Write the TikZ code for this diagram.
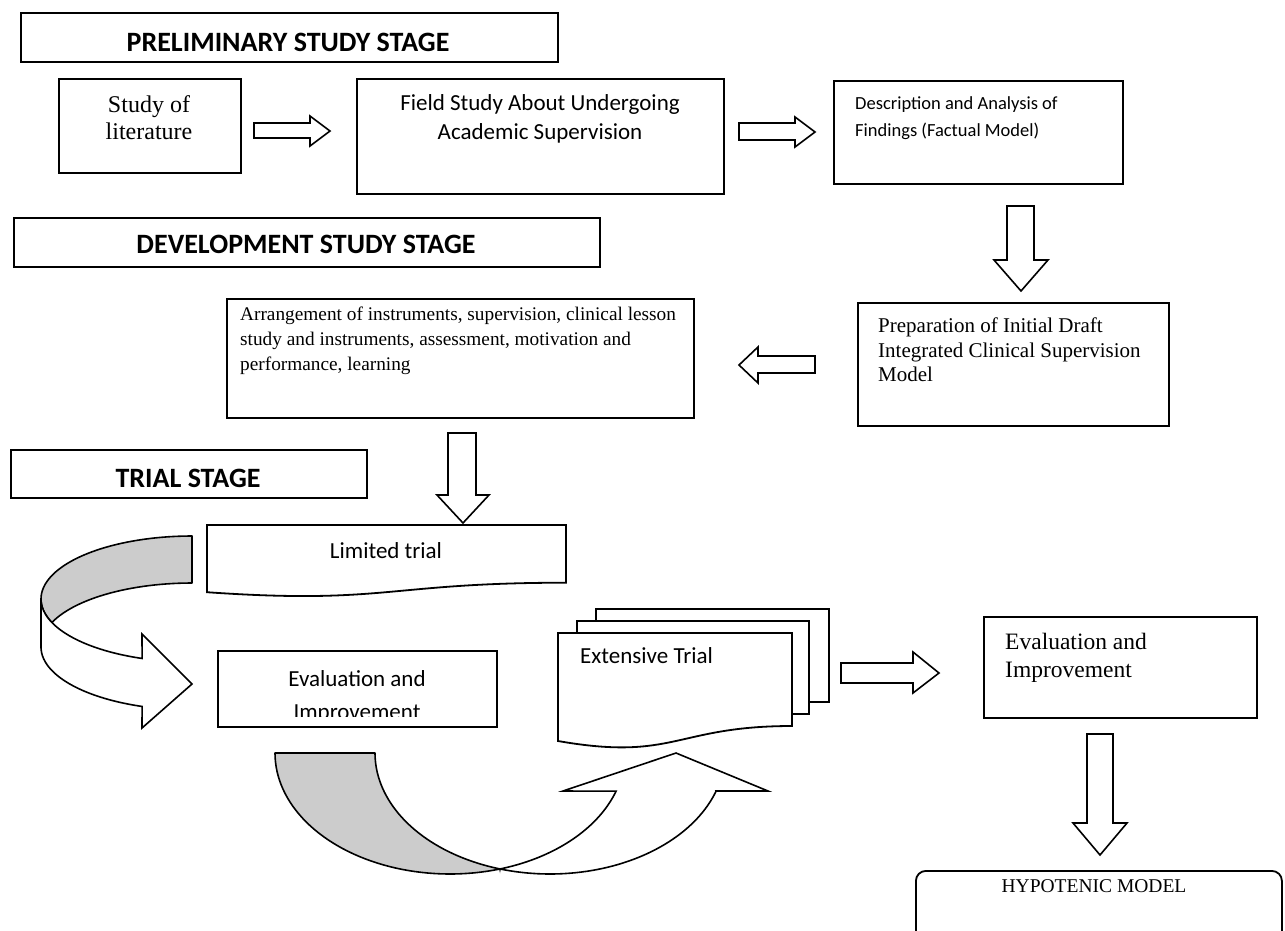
\documentclass[tikz,border=0pt]{standalone}
\usepackage{fontspec}
\setmainfont{Liberation Serif}
\newfontfamily\carl{Carlito}
\newfontfamily\tnr{Liberation Serif}
\definecolor{bandgray}{RGB}{204,204,204}
\begin{document}
\begin{tikzpicture}[x=1pt,y=-1pt,
  box/.style={draw, line width=1.8pt, fill=white, inner sep=0pt, anchor=north west, line join=miter},
  blk/.style={draw, line width=1.6pt, fill=white, line join=miter},
  band/.style={draw, line width=1.6pt, fill=bandgray, line join=round},
  front/.style={draw, line width=1.6pt, fill=white, line join=miter},
  doc/.style={draw, line width=1.8pt, fill=white, line join=miter},
  headtxt/.style={font=\carl\bfseries\fontsize{28}{28}\selectfont, inner sep=0pt, anchor=base},
  caltxt/.style={font=\carl\fontsize{23}{23}\selectfont, inner sep=0pt},
  smalltxt/.style={font=\carl\fontsize{18.5}{18.5}\selectfont, inner sep=0pt, anchor=base west},
  tnrtxt/.style={font=\tnr\fontsize{#1}{#1}\selectfont, inner sep=0pt}
]
\clip (0,0) rectangle (1285,930);
\fill[white] (0,0) rectangle (1285,930);

% ---------- stage headings ----------
\node[box, minimum width=537pt, minimum height=49pt] (prelim) at (20,12) {};
\node[headtxt] (prelimT) at (288,51) {PRELIMINARY STUDY STAGE};
\node[box, minimum width=586pt, minimum height=49pt] (devel) at (13,217) {};
\node[headtxt] (develT) at (306,253) {DEVELOPMENT STUDY STAGE};
\node[box, minimum width=356pt, minimum height=48pt] (trial) at (10,449) {};
\node[headtxt] (trialT) at (188,487) {TRIAL STAGE};

% ---------- preliminary stage ----------
\node[box, minimum width=182pt, minimum height=94pt] (lit) at (58,78) {};
\node[tnrtxt=24, anchor=base] (litA) at (149,112) {Study of};
\node[tnrtxt=24, anchor=base] (litB) at (149,139) {literature};

\node[box, minimum width=367pt, minimum height=115pt] (field) at (356,78) {};
\node[caltxt, anchor=base] (fieldA) at (540,110) {Field Study About Undergoing};
\node[caltxt, anchor=base] (fieldB) at (540,139) {Academic Supervision};

\node[box, minimum width=289pt, minimum height=103pt] (desc) at (833,80) {};
\node[smalltxt] (descA) at (855,109) {Description and Analysis of};
\node[smalltxt] (descB) at (855,136) {Findings (Factual Model)};

\draw[blk] (254,123) -- (310,123) -- (310,116) -- (330,131) -- (310,146) -- (310,138) -- (254,138) -- cycle;
\draw[blk] (739,123) -- (795,123) -- (795,117) -- (815,132) -- (795,147) -- (795,140) -- (739,140) -- cycle;
\draw[blk] (1007,206) -- (1034,206) -- (1034,260) -- (1048,260) -- (1021,291) -- (994,260) -- (1007,260) -- cycle;

% ---------- development stage ----------
\node[box, minimum width=311pt, minimum height=123pt] (prep) at (857,302) {};
\node[tnrtxt=21, anchor=base west] (prepA) at (878,332) {Preparation of Initial Draft};
\node[tnrtxt=21, anchor=base west] (prepB) at (878,357) {Integrated Clinical Supervision};
\node[tnrtxt=21, anchor=base west] (prepC) at (878,381) {Model};

\node[box, minimum width=467pt, minimum height=119pt] (arr) at (226,298) {};
\node[tnrtxt=19.3, anchor=base west] (arrA) at (240,320) {Arrangement of instruments, supervision, clinical lesson};
\node[tnrtxt=19.3, anchor=base west] (arrB) at (240,345) {study and instruments, assessment, motivation and};
\node[tnrtxt=19.3, anchor=base west] (arrC) at (240,370) {performance, learning};

\draw[blk] (815,356) -- (758,356) -- (758,347) -- (739,365) -- (758,383) -- (758,373) -- (815,373) -- cycle;
\draw[blk] (448,433) -- (476,433) -- (476,495) -- (489,495) -- (463,523) -- (437,495) -- (448,495) -- cycle;

% ---------- trial stage ----------
\draw[doc] (207,525) -- (566,525) -- (566,582.7) .. controls (386.5,582.7) and (386.5,604.7) .. (207,592.2) -- cycle;
\node[caltxt, anchor=base] (limT) at (386,558) {Limited trial};

% left curved arrow
\draw[band] (192,536)
  -- plot[domain=270:180, samples=40, variable=\t] ({192+151*cos(\t)},{599+63*sin(\t)})
  -- plot[domain=180:158.1, samples=10, variable=\t] ({192+151*cos(\t)},{599+63*sin(\t)})
  -- plot[domain=201.9:270, samples=30, variable=\t] ({192+151*cos(\t)},{646+63*sin(\t)})
  -- cycle;
\draw[front] (41,599) -- (41,647)
  -- plot[domain=180:109.3, samples=40, variable=\t] ({192+151*cos(\t)},{647+63*sin(\t)})
  -- (142,728) -- (192,684) -- (142,634)
  -- plot[domain=109.3:180, samples=40, variable=\t] ({192+151*cos(\t)},{599+63*sin(\t)})
  -- cycle;

\node[box, minimum width=279pt, minimum height=76pt] (evalL) at (217,650) {};
\begin{scope}
\clip (217,650) rectangle (496,716);
\node[caltxt, anchor=base] (evalLA) at (357,686) {Evaluation and};
\node[caltxt, anchor=base] (evalLB) at (357,719) {Improvement};
\end{scope}

% extensive trial (multidocument)
\draw[doc] (596,609) rectangle (829,702);
\draw[doc] (577,621) rectangle (809,714);
\draw[doc] (558,633) -- (792,633) -- (792,726) .. controls (675,726) and (675,761.5) .. (558,741) -- cycle;
\node[caltxt, anchor=base west] (extT) at (580,663) {Extensive Trial};

% bottom curved arrow
\draw[band] (275,753) -- (375,753)
  -- plot[domain=180:106.6, samples=40, variable=\t] ({550+175*cos(\t)},{753+121*sin(\t)})
  -- plot[domain=73.4:180, samples=50, variable=\t] ({450+175*cos(\t)},{753+121*sin(\t)})
  -- cycle;
\draw[front] (500,869)
  -- plot[domain=73.4:18.4, samples=40, variable=\t] ({450+175*cos(\t)},{753+121*sin(\t)})
  -- (563,791) -- (676,753) -- (768,791) -- (716,791)
  -- plot[domain=18.4:106.6, samples=50, variable=\t] ({550+175*cos(\t)},{753+121*sin(\t)})
  -- cycle;

\draw[blk] (841,663) -- (913,663) -- (913,652) -- (939,673) -- (913,693) -- (913,683) -- (841,683) -- cycle;

\node[box, minimum width=273pt, minimum height=101pt] (evalR) at (983,616) {};
\node[tnrtxt=23.5, anchor=base west] (evalRA) at (1005,649) {Evaluation and};
\node[tnrtxt=23.5, anchor=base west] (evalRB) at (1005,677) {Improvement};

\draw[blk] (1087,734) -- (1113,734) -- (1113,823) -- (1127,823) -- (1100,855) -- (1073,823) -- (1087,823) -- cycle;

\node[box, rounded corners=10pt, minimum width=366pt, minimum height=90pt] (hypo) at (915,870) {};
\node[tnrtxt=19.5, anchor=base] (hypoT) at (1094,892) {HYPOTENIC MODEL};
\end{tikzpicture}
\end{document}
